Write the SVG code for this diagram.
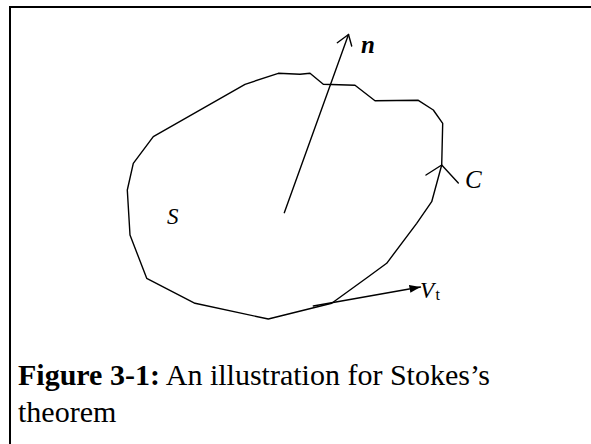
<svg xmlns="http://www.w3.org/2000/svg" width="591" height="444" viewBox="0 0 591 444">
<style>
.ln{fill:none;stroke:#000;stroke-width:1.4;stroke-linejoin:round;stroke-linecap:round}
.lbl{font-family:"Liberation Serif","Times New Roman",serif;fill:#000}
</style>
<defs>
<marker id="filled" viewBox="0 0 11 8" refX="11" refY="4" markerWidth="11" markerHeight="8" markerUnits="userSpaceOnUse" orient="auto">
<path d="M0,0 L11,4 L0,8 Z" fill="#000"/>
</marker>
</defs>
<rect width="591" height="444" fill="#fff"/>
<path d="M10,444 V7 H591" fill="none" stroke="#000" stroke-width="2"/>
<g id="surface">
<path class="ln" d="M278.3,73.3 L300,74.3 L310,73.3 L323.3,84.3 L355,85.3 L375,100.7 L418.3,100.3 L433.3,110 L442.7,123.3 L441.7,165 L431.7,201.7 L416.7,223.3 L386.7,263.3 L368.3,276.7 L331.7,303.3 L268.3,319 L195,303.3 L146.7,278.3 L130,235 L127.3,190 L133.3,163.3 L153.3,136.7 L245,84.3 Z"/>
<text class="lbl" x="167" y="224" font-size="23" font-style="italic">S</text>
</g>
<g id="curve-direction">
<path class="ln" d="M426,175 L441.7,165 L458.3,183"/>
<text class="lbl" x="465" y="188" font-size="25" font-style="italic">C</text>
</g>
<g id="normal">
<text class="lbl" x="361" y="53" font-size="25" font-style="italic" font-weight="bold">n</text>
</g>
<g id="tangent">
<text class="lbl" x="420" y="298" font-size="23" font-style="italic">V</text>
<text class="lbl" x="435.5" y="300" font-size="16">t</text>
</g>
<g id="connectors">
<path class="ln" d="M284.3,212.7 L348.5,34.5"/>
<path class="ln" d="M337.3,42.7 L348.5,34.5 L351.7,46"/>
<path class="ln" d="M313.3,306 L420.5,287" marker-end="url(#filled)"/>
</g>
<g id="caption">
<text class="lbl" x="18" y="385" font-size="30"><tspan font-weight="bold">Figure 3-1:</tspan> An illustration for Stokes’s</text>
<text class="lbl" x="18" y="422" font-size="30">theorem</text>
</g>
</svg>
